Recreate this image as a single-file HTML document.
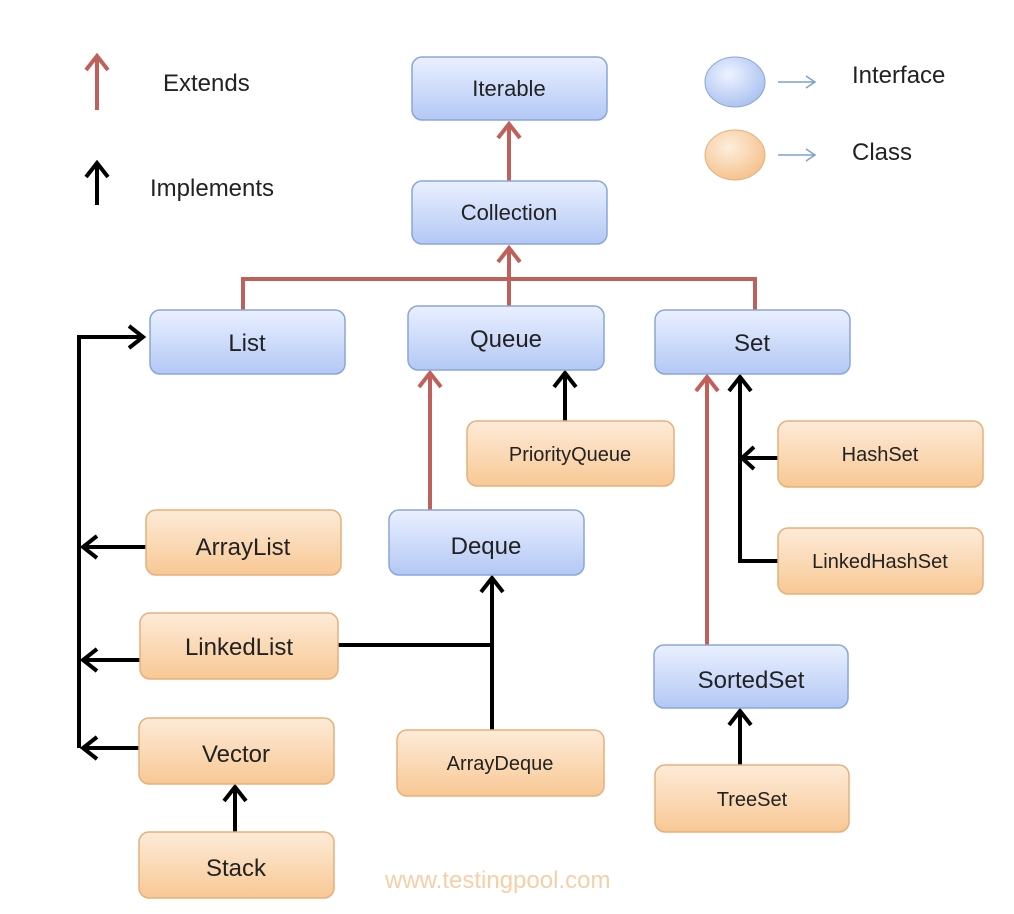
<!DOCTYPE html>
<html><head><meta charset="utf-8"><style>body{margin:0;background:#fff}svg{display:block}text{font-family:"Liberation Sans",sans-serif;fill:#222}</style></head>
<body>
<svg width="1014" height="914" viewBox="0 0 1014 914" xmlns="http://www.w3.org/2000/svg">
<defs>
<linearGradient id="b" x1="0" y1="0" x2="0" y2="1"><stop offset="0" stop-color="#eaf0ff"/><stop offset="1" stop-color="#b3c8f5"/></linearGradient>
<linearGradient id="o" x1="0" y1="0" x2="0" y2="1"><stop offset="0" stop-color="#fdebd8"/><stop offset="1" stop-color="#f8c894"/></linearGradient>
<radialGradient id="rb" cx="0.4" cy="0.35" r="0.7"><stop offset="0" stop-color="#eef3ff"/><stop offset="1" stop-color="#a9c0f0"/></radialGradient>
<radialGradient id="ro" cx="0.4" cy="0.35" r="0.7"><stop offset="0" stop-color="#fdeedd"/><stop offset="1" stop-color="#f5c08a"/></radialGradient>
</defs>
<g fill="none" stroke-width="4" stroke-linecap="butt">
<g stroke="#c0605a">
<path d="M97 110V58M86 70L97 56L108 70"/>
<path d="M509 181V124M498 138L509 124L520 138"/>
<path d="M243 310V279H755V310M509 306V248M498 262L509 248L520 262"/>
<path d="M430 510V373M419 387L430 373L441 387"/>
<path d="M707 645V377M696 391L707 377L718 391"/>
</g>
<g stroke="#000">
<path d="M97 205V165M86 177L97 163L108 177"/>
<path d="M565 421V373M554 387L565 373L576 387"/>
<path d="M778 458H740M778 561H740V377M729 391L740 377L751 391M754 447L742 458L754 469"/>
<path d="M79 748V337H143M129 326L143 337L129 348"/>
<path d="M146 547H83M97 536L83 547L97 558M140 660H83M97 649L83 660L97 671M139 748H83M97 737L83 748L97 759"/>
<path d="M338 645H492M492 730V578M481 592L492 578L503 592"/>
<path d="M235 832V787M224 801L235 787L246 801"/>
<path d="M740 765V711M729 725L740 711L751 725"/>
</g>
<g stroke="#7f9fd0" stroke-width="1.5"><path d="M778 82H815M806 76L815 82L806 88M778 155H815M806 149L815 155L806 161"/></g>
</g>
<ellipse cx="735" cy="82" rx="30" ry="25" fill="url(#rb)" stroke="#8aa6d8"/>
<ellipse cx="735" cy="155" rx="30" ry="25" fill="url(#ro)" stroke="#e6b07a"/>
<g stroke="#8aa6d8" stroke-width="1.5" fill="url(#b)">
<rect x="412" y="57" width="195" height="63" rx="10"/>
<rect x="412" y="181" width="195" height="63" rx="10"/>
<rect x="150" y="310" width="195" height="64" rx="10"/>
<rect x="408" y="306" width="196" height="64" rx="10"/>
<rect x="655" y="310" width="195" height="64" rx="10"/>
<rect x="389" y="510" width="195" height="65" rx="10"/>
<rect x="654" y="645" width="194" height="63" rx="10"/>
</g>
<g stroke="#e6b07a" stroke-width="1.5" fill="url(#o)">
<rect x="467" y="421" width="207" height="65" rx="10"/>
<rect x="778" y="421" width="205" height="66" rx="10"/>
<rect x="778" y="528" width="205" height="66" rx="10"/>
<rect x="146" y="510" width="195" height="65" rx="10"/>
<rect x="140" y="613" width="198" height="66" rx="10"/>
<rect x="139" y="718" width="195" height="66" rx="10"/>
<rect x="397" y="730" width="207" height="66" rx="10"/>
<rect x="655" y="765" width="194" height="67" rx="10"/>
<rect x="139" y="832" width="195" height="66" rx="10"/>
</g>
<g text-anchor="middle" font-size="22">
<text x="509" y="96">Iterable</text>
<text x="509" y="220">Collection</text>
<text x="247" y="351" font-size="24">List</text>
<text x="506" y="347" font-size="24">Queue</text>
<text x="752" y="351" font-size="24">Set</text>
<text x="570" y="461" font-size="20">PriorityQueue</text>
<text x="880" y="461" font-size="20">HashSet</text>
<text x="880" y="568" font-size="20">LinkedHashSet</text>
<text x="243" y="555" font-size="24">ArrayList</text>
<text x="486" y="554" font-size="24">Deque</text>
<text x="239" y="655" font-size="24">LinkedList</text>
<text x="751" y="688" font-size="24">SortedSet</text>
<text x="236" y="762" font-size="24">Vector</text>
<text x="500" y="770" font-size="20">ArrayDeque</text>
<text x="752" y="806" font-size="20">TreeSet</text>
<text x="236" y="876" font-size="24">Stack</text>
</g>
<g font-size="24">
<text x="163" y="91">Extends</text>
<text x="150" y="196">Implements</text>
<text x="852" y="83">Interface</text>
<text x="852" y="160">Class</text>
</g>
<text x="385" y="888" font-size="24" style="fill:#f5cfa8">www.testingpool.com</text>
</svg>
</body></html>
